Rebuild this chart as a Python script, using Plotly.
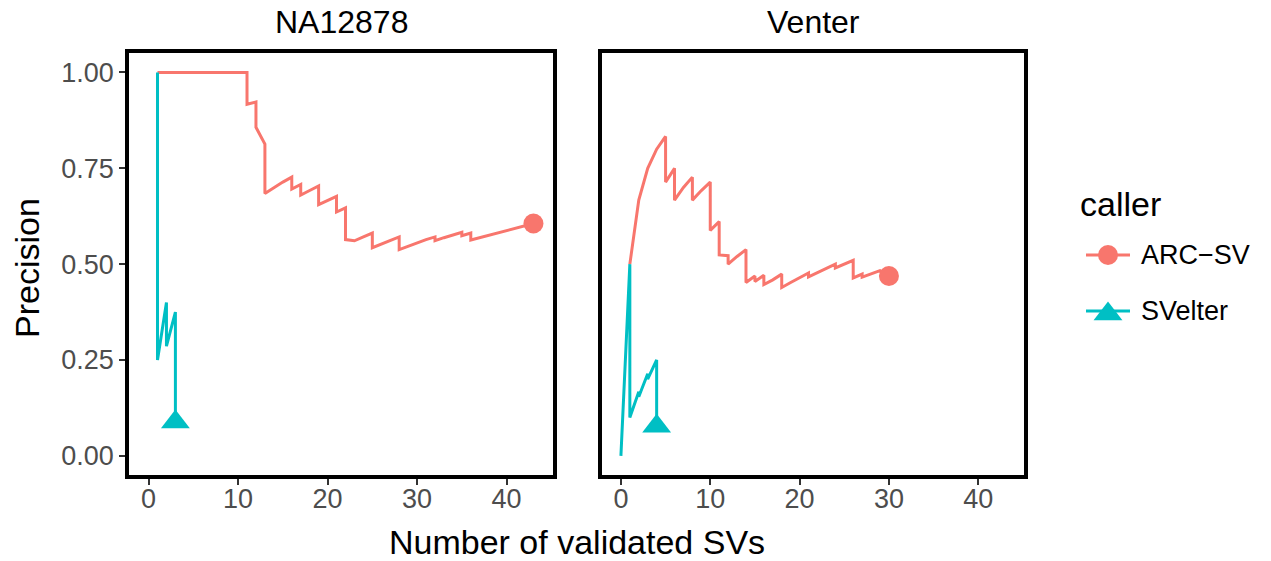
import plotly.graph_objects as go

# Precision as a function of the number of validated SVs, per sample and caller
samples = ["NA12878", "Venter"]
callers = ["ARC−SV", "SVelter"]

na12878_arc_x = [1, 2, 3, 4, 5, 6, 7, 8, 9, 10, 11,
                 11, 12, 12, 13, 13,
                 14, 15, 16, 16, 17, 17, 18, 19, 19, 20, 21, 21, 22, 22,
                 23, 24, 25, 25, 26, 27, 28, 28, 29, 30, 31, 32, 32,
                 33, 34, 35, 35, 36, 36,
                 37, 38, 39, 40, 41, 42, 43]
na12878_arc_y = [1.0, 1.0, 1.0, 1.0, 1.0, 1.0, 1.0, 1.0, 1.0, 1.0, 1.0,
                 0.917, 0.923, 0.857, 0.813, 0.684,
                 0.700, 0.714, 0.727, 0.696, 0.708, 0.680, 0.692, 0.704, 0.655, 0.667, 0.677, 0.636, 0.647, 0.564,
                 0.561, 0.571, 0.581, 0.543, 0.553, 0.563, 0.571, 0.538, 0.547, 0.556, 0.564, 0.571, 0.561,
                 0.569, 0.576, 0.583, 0.574, 0.581, 0.563,
                 0.569, 0.576, 0.582, 0.588, 0.594, 0.600, 0.606]

na12878_svelter_x = [1, 1, 2, 2, 3, 3]
na12878_svelter_y = [1.0, 0.25, 0.4, 0.286, 0.375, 0.088]

venter_arc_x = [1, 2, 3, 4, 5, 5, 6, 6, 7, 8,
                8, 9, 10, 10, 11, 11, 12, 12, 13, 14,
                14, 15, 15, 16, 16, 17, 18, 18, 19, 20,
                21, 21, 22, 23, 24, 24, 25, 26, 26, 27,
                27, 28, 29, 30]
venter_arc_y = [0.5, 0.667, 0.75, 0.8, 0.833, 0.714, 0.75, 0.667, 0.7, 0.727,
                0.667, 0.692, 0.714, 0.588, 0.611, 0.524, 0.522, 0.5, 0.52, 0.538,
                0.452, 0.469, 0.455, 0.471, 0.447, 0.459, 0.474, 0.439, 0.452, 0.465,
                0.477, 0.467, 0.478, 0.489, 0.5, 0.49, 0.5, 0.51, 0.464, 0.474,
                0.466, 0.475, 0.483, 0.469]

venter_svelter_x = [0, 1, 1, 2, 2, 3, 3, 4, 4]
venter_svelter_y = [0.0, 0.5, 0.1, 0.167, 0.154, 0.214, 0.2, 0.25, 0.077]

x_ticks = [0, 10, 20, 30, 40]
y_ticks = [0.0, 0.25, 0.5, 0.75, 1.0]

series = {
    "NA12878": {"ARC−SV": (na12878_arc_x, na12878_arc_y),
                "SVelter": (na12878_svelter_x, na12878_svelter_y)},
    "Venter": {"ARC−SV": (venter_arc_x, venter_arc_y),
               "SVelter": (venter_svelter_x, venter_svelter_y)},
}

styles = {
    "ARC−SV": dict(color="#F8766D", symbol="circle", size=20),
    "SVelter": dict(color="#00BFC4", symbol="triangle-up", size=25),
}

FONT = "Liberation Sans, Arial, sans-serif"
W, H = 1271, 561
LINE_W = 3

fig = go.Figure()
axes = [("x", "y"), ("x2", "y2")]

# curves
for (xa, ya), sample in zip(axes, samples):
    for caller in callers:
        xs, ys = series[sample][caller]
        fig.add_trace(go.Scatter(
            x=xs, y=ys, mode="lines", xaxis=xa, yaxis=ya,
            line=dict(color=styles[caller]["color"], width=LINE_W),
            showlegend=False, hoverinfo="skip"))

# end-point markers
for (xa, ya), sample in zip(axes, samples):
    for caller in callers:
        xs, ys = series[sample][caller]
        st = styles[caller]
        fig.add_trace(go.Scatter(
            x=[xs[-1]], y=[ys[-1]], mode="markers", xaxis=xa, yaxis=ya,
            marker=dict(color=st["color"], symbol=st["symbol"], size=st["size"]),
            showlegend=False, hoverinfo="skip"))

# legend keys drawn on a small helper axis (y measured in pixels from the top)
legend_rows = {"ARC−SV": 255, "SVelter": 311}
for caller in callers:
    st = styles[caller]
    row = legend_rows[caller]
    fig.add_trace(go.Scatter(
        x=[0, 1], y=[row, row], mode="lines", xaxis="x3", yaxis="y3",
        line=dict(color=st["color"], width=LINE_W),
        showlegend=False, hoverinfo="skip"))
    fig.add_trace(go.Scatter(
        x=[0.5], y=[row + (3 if st["symbol"] == "triangle-up" else 0)],
        mode="markers", xaxis="x3", yaxis="y3", cliponaxis=False,
        marker=dict(color=st["color"], symbol=st["symbol"], size=st["size"]),
        showlegend=False, hoverinfo="skip"))

axis_common = dict(
    showline=True, mirror=True, linecolor="black", linewidth=4,
    ticks="outside", ticklen=6, tickwidth=2, tickcolor="#333333",
    showgrid=False, zeroline=False,
    tickfont=dict(family=FONT, size=27, color="#4D4D4D"),
)

hidden = dict(visible=False, showgrid=False, zeroline=False, fixedrange=True)

y_dom = [(H - 475) / H, (H - 53.3) / H]

annotations = [
    dict(text="NA12878", x=(129.3 + 552.7) / 2 / W, y=(H - 22) / H,
         font=dict(family=FONT, size=32, color="black")),
    dict(text="Venter", x=(601.7 + 1024.3) / 2 / W, y=(H - 22) / H,
         font=dict(family=FONT, size=32, color="black")),
    dict(text="Number of validated SVs", x=577 / W, y=(H - 542) / H,
         font=dict(family=FONT, size=34, color="black")),
    dict(text="Precision", x=27 / W, y=(H - 268) / H, textangle=-90,
         font=dict(family=FONT, size=34, color="black")),
    dict(text="caller", x=1078 / W, y=(H - 204) / H, xanchor="left",
         font=dict(family=FONT, size=34, color="black")),
]
for caller in callers:
    annotations.append(dict(text=caller, x=1139 / W, y=(H - legend_rows[caller]) / H,
                            xanchor="left",
                            font=dict(family=FONT, size=27, color="black")))
for a in annotations:
    a.setdefault("xanchor", "center")
    a.update(xref="paper", yref="paper", yanchor="middle", showarrow=False)

fig.update_layout(
    width=W, height=H,
    margin=dict(l=0, r=0, t=0, b=0),
    paper_bgcolor="white", plot_bgcolor="white",
    font=dict(family=FONT, color="black"),
    showlegend=False,
    xaxis=dict(domain=[129.3 / W, 552.7 / W], range=[-2.15, 45.15],
               tickvals=x_ticks, anchor="y", ticklabelstandoff=-9, **axis_common),
    xaxis2=dict(domain=[601.7 / W, 1024.3 / W], range=[-2.15, 45.15],
                tickvals=x_ticks, anchor="y2", ticklabelstandoff=-9, **axis_common),
    yaxis=dict(domain=y_dom, range=[-0.05, 1.05], tickvals=y_ticks,
               tickformat=".2f", anchor="x", **axis_common),
    yaxis2=dict(domain=y_dom, range=[-0.05, 1.05], tickvals=y_ticks,
                anchor="x2", matches="y", **{**axis_common, "ticks": "",
                                             "showticklabels": False}),
    xaxis3=dict(domain=[1086 / W, 1130 / W], range=[0, 1], anchor="y3", **hidden),
    yaxis3=dict(domain=[(H - 340) / H, (H - 230) / H], range=[340, 230],
                anchor="x3", **hidden),
    annotations=annotations,
)

fig.write_html("out.html")
